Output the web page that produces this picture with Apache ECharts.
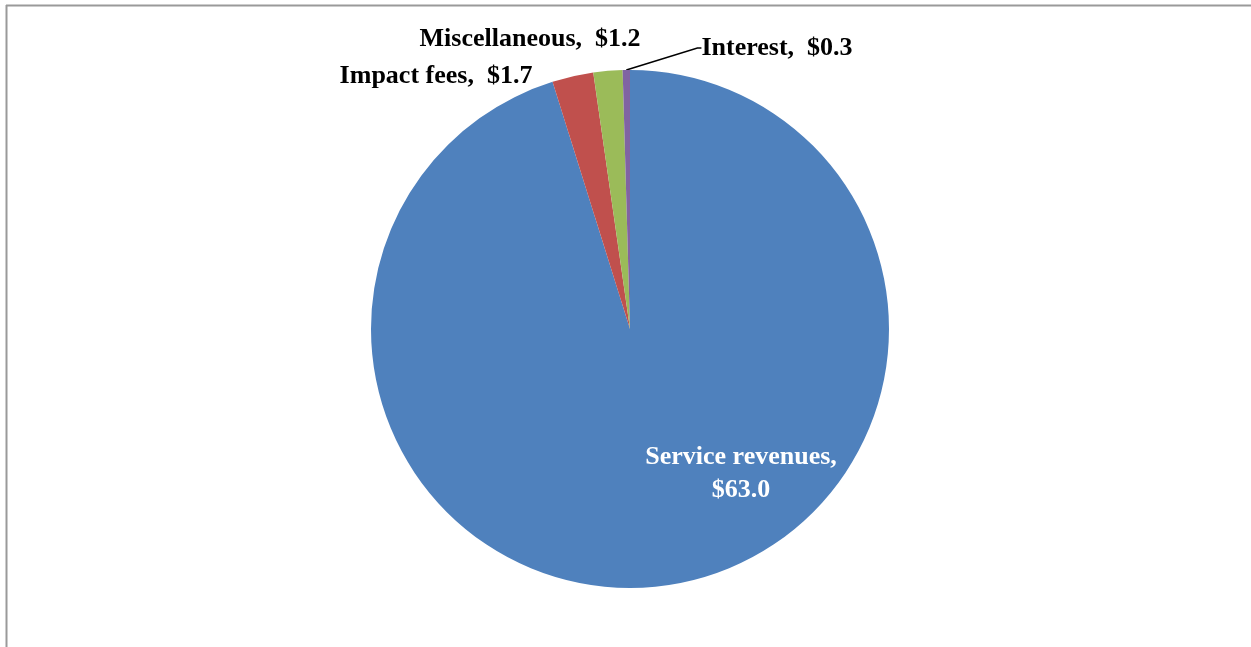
<!DOCTYPE html>
<html><head><meta charset="utf-8">
<script src="https://cdn.jsdelivr.net/npm/echarts@6/dist/echarts.min.js"></script>
<style>html,body{margin:0;padding:0;background:#fff}#c{width:1251px;height:647px}</style>
</head><body><div id="c"></div>
<script>
const categories = ['Service revenues', 'Impact fees', 'Miscellaneous', 'Interest'];
const values = [63.0, 1.7, 1.2, 0.3];
const colors = ['#4F81BD', '#C0504D', '#9BBB59', '#8064A2'];

const labelPos = {
  0: {x: 741, y: 474},
  1: {x: 436, y: 76},
  2: {x: 530, y: 39},
  3: {x: 777, y: 48}
};

const chart = echarts.init(document.getElementById('c'), null, {renderer: 'canvas'});
chart.setOption({
  animation: false,
  backgroundColor: '#fff',
  graphic: [
    {type: 'line', shape: {x1: 6, y1: 5.5, x2: 1251, y2: 5.5}, style: {stroke: '#9a9a9a', lineWidth: 2}},
    {type: 'line', shape: {x1: 6.5, y1: 5, x2: 6.5, y2: 647}, style: {stroke: '#9a9a9a', lineWidth: 2}}
  ],
  series: [{
    type: 'pie',
    center: [630, 329],
    radius: [0, 259],
    startAngle: 90,
    clockwise: true,
    avoidLabelOverlap: false,
    itemStyle: {borderWidth: 0},
    data: categories.map((n, i) => ({
      name: n,
      value: values[i],
      itemStyle: {color: colors[i]},
      label: i === 0 ? {position: 'inside', color: '#fff'} : {position: 'outside', color: '#000'},
      labelLine: {show: i === 3, lineStyle: {color: '#000', width: 1.5}}
    })),
    label: {
      show: true,
      fontFamily: 'Liberation Serif',
      fontWeight: 'bold',
      fontSize: 26,
      lineHeight: 33,
      align: 'center',
      formatter: p => p.dataIndex === 0
        ? p.name + ',\n$' + p.value.toFixed(1)
        : p.name + ',  $' + p.value.toFixed(1)
    },
    labelLine: {length: 10, length2: 4},
    labelLayout: p => {
      const pos = labelPos[p.dataIndex];
      return {x: pos.x, y: pos.y, align: 'center', verticalAlign: 'middle'};
    }
  }]
});
</script></body></html>
